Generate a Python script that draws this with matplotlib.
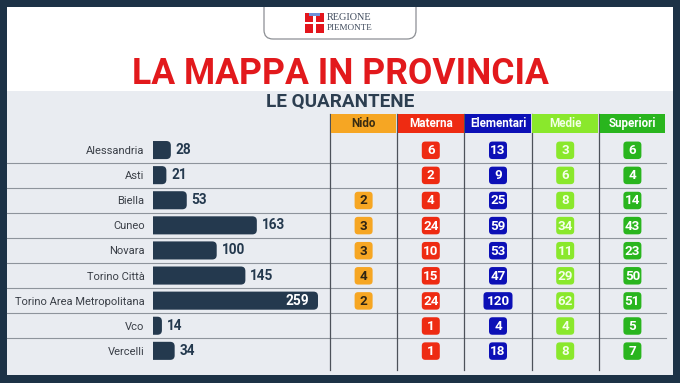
import matplotlib
matplotlib.use("Agg")
import matplotlib.pyplot as plt
from matplotlib.patches import Rectangle, FancyBboxPatch

# --- data ---
provinces = ["Alessandria", "Asti", "Biella", "Cuneo", "Novara", "Torino Città",
             "Torino Area Metropolitana", "Vco", "Vercelli"]
totals = [28, 21, 53, 163, 100, 145, 259, 14, 34]

levels = ["Nido", "Materna", "Elementari", "Medie", "Superiori"]
nido = [None, None, 2, 3, 3, 4, 2, None, None]
materna = [6, 2, 4, 24, 10, 15, 24, 1, 1]
elementari = [13, 9, 25, 59, 53, 47, 120, 4, 18]
medie = [3, 6, 8, 34, 11, 29, 62, 4, 8]
superiori = [6, 4, 14, 43, 23, 50, 51, 5, 7]
level_values = [nido, materna, elementari, medie, superiori]

level_colors = ["#f6a623", "#ee2b12", "#0c10b6", "#8ae82c", "#29b51e"]
level_text = ["#3a2c12", "white", "white", "#f2ffe6", "white"]
badge_text = ["#2e2414", "white", "white", "#f4ffe8", "white"]

DARK = "#1c3246"
BAR = "#24394e"
PANEL = "#e9ecf1"

W, H = 680, 383
ROW_TOP, ROW_H = 137.5, 25.1
COL_LEFT, COL_W = 330, 67.2
n = len(provinces)

fig = plt.figure(figsize=(W / 100, H / 100), dpi=100, facecolor=DARK)
ax = fig.add_axes([0, 0, 1, 1])
ax.set_xlim(0, W)
ax.set_ylim(H, 0)
ax.axis("off")

# panels
ax.add_patch(Rectangle((7, 7), 665.5, 84, facecolor="white", zorder=0))
ax.add_patch(Rectangle((7, 90.5), 665.5, 284, facecolor=PANEL, zorder=0))

# logo box
ax.add_patch(FancyBboxPatch((264, -20), 152, 59, boxstyle="round,pad=0,rounding_size=9",
                            facecolor="white", edgecolor="#8c8f94", lw=0.9, zorder=1))
ax.add_patch(Rectangle((0, 0), W, 7, facecolor=DARK, zorder=2))
ax.add_patch(Rectangle((305, 13), 19, 20, facecolor="#e3151c", zorder=3))
ax.add_patch(Rectangle((313.3, 13), 2.4, 20, facecolor="white", zorder=4))
ax.add_patch(Rectangle((305, 21.8), 19, 2.4, facecolor="white", zorder=4))
ax.add_patch(Rectangle((309, 13), 11, 3, facecolor="#6f8fd8", zorder=5))
ax.text(327, 18, "REGIONE", family="Liberation Serif", fontsize=7.4, color="#3f4a5c",
        va="center", ha="left", zorder=5)
ax.text(327, 28.5, "PIEMONTE", family="Liberation Serif", fontsize=6.6, color="#3f4a5c",
        va="center", ha="left", zorder=5)

# titles
ax.text(340, 84, "LA MAPPA IN PROVINCIA", family="Roboto", weight="bold", fontsize=25.6,
        color="#e2191c", ha="center", va="baseline")
ax.text(340, 107, "LE QUARANTENE", family="Roboto", weight="bold", fontsize=13.6,
        color="#2c3e50", ha="center", va="baseline")

# grid lines
for k in range(1, n):
    y = ROW_TOP + k * ROW_H
    ax.plot([7, 666], [y, y], color="#8e949c", lw=0.8, zorder=1)
for j in range(len(levels)):
    x = COL_LEFT + j * COL_W
    ax.plot([x, x], [114, 370], color="#4d525a", lw=0.9, zorder=1)

# header cells and badges
for j, (lab, col) in enumerate(zip(levels, level_colors)):
    x0 = COL_LEFT + j * COL_W
    ax.add_patch(Rectangle((x0 + 0.8, 114), COL_W - 1.6, 18.5, facecolor=col, zorder=2))
    ax.text(x0 + COL_W / 2, 123.5, lab, family="Roboto", weight="bold", fontsize=8.4,
            color=level_text[j], ha="center", va="center", zorder=3)
    cx = x0 + COL_W / 2
    for i, v in enumerate(level_values[j]):
        if v is None:
            continue
        cy = ROW_TOP + (i + 0.5) * ROW_H
        bw = 29 if v >= 100 else 18
        ax.add_patch(FancyBboxPatch((cx - bw / 2, cy - 8.5), bw, 17.5,
                                    boxstyle="round,pad=0,rounding_size=3.5",
                                    facecolor=col, edgecolor="none", zorder=2))
        ax.text(cx, cy + 0.7, str(v), family="Roboto", weight="bold", fontsize=9.6,
                color=badge_text[j], ha="center", va="center", zorder=3)

# bar chart axes: 259 -> 165 px
px_per_unit = 165 / 259
x_max = 300
bar_left = 153
axb = fig.add_axes([bar_left / W, (H - (ROW_TOP + n * ROW_H)) / H,
                    x_max * px_per_unit / W, n * ROW_H / H])
axb.set_xlim(0, x_max)
axb.set_ylim(n - 0.5, -0.5)
axb.patch.set_alpha(0)
for s in axb.spines.values():
    s.set_visible(False)
axb.set_xticks([])
axb.set_yticks(range(n))
axb.set_yticklabels(provinces, family="Roboto", fontsize=8.0, color="#3a3f47")
axb.tick_params(axis="y", length=0, pad=6)

# rounded bars: start left of 0 so the axes clip leaves a square left edge
bh = 0.72
aspect = px_per_unit / ROW_H
radius = 4.5 / px_per_unit
vmax = max(totals)
for i, v in enumerate(totals):
    axb.add_patch(FancyBboxPatch((-2 * radius, i - bh / 2), v + 2 * radius, bh,
                                 boxstyle=f"round,pad=0,rounding_size={radius}",
                                 mutation_aspect=aspect, facecolor=BAR, edgecolor="none"))
for i, v in enumerate(totals):
    if v == vmax:
        axb.annotate(str(v), (v, i), xytext=(-6.5, 0), textcoords="offset points",
                     ha="right", va="center", family="Roboto", weight="bold",
                     fontsize=9.8, color="white")
    else:
        axb.annotate(str(v), (v, i), xytext=(3.5, 0), textcoords="offset points",
                     ha="left", va="center", family="Roboto", weight="bold",
                     fontsize=9.8, color="#24394e")

fig.savefig("out.png", dpi=100, facecolor=DARK)
